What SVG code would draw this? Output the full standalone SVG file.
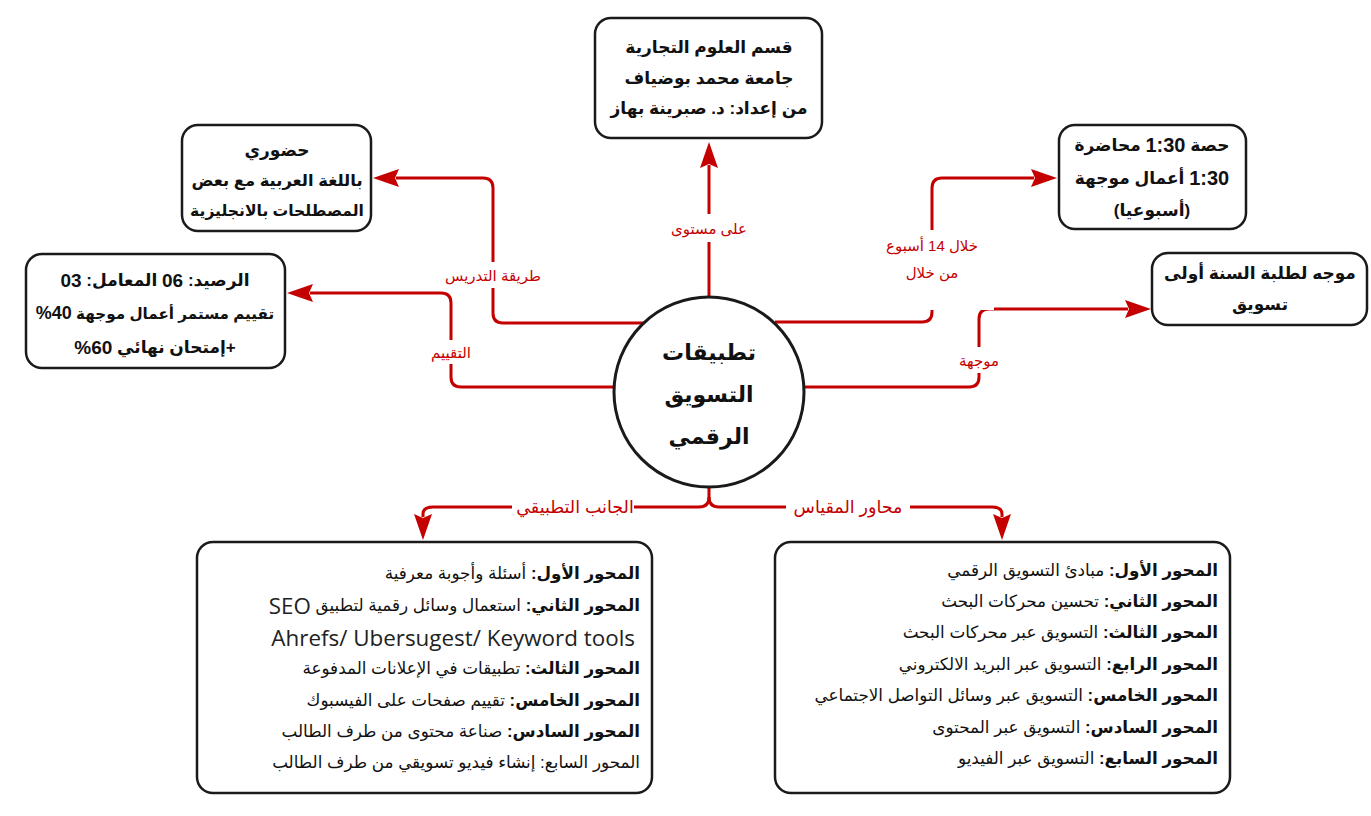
<svg xmlns="http://www.w3.org/2000/svg" width="1371" height="816" viewBox="0 0 1371 816">
<style>
.box{fill:#fff;stroke:#1a1a1a;stroke-width:2.5}
.t{font-family:"Liberation Sans","DejaVu Sans",sans-serif;fill:#111;direction:rtl}
.b{font-weight:bold;font-size:17px}
.c{font-weight:bold;font-size:22px}
.l{font-size:16.8px}
.n{font-size:19px}
.en{font-family:"Open Sans","Noto Sans",sans-serif;font-size:22.4px;fill:#222}
.con{fill:none;stroke:#c40000;stroke-width:3}
.lab{font-family:"Liberation Sans","DejaVu Sans",sans-serif;font-size:15px;fill:#c40000;direction:rtl}
.lab2{font-size:17.5px}
.bg{fill:#fff}
</style>
<defs>
<marker id="arr" markerUnits="userSpaceOnUse" viewBox="0 0 26 18" refX="3" refY="9" markerWidth="26" markerHeight="18" orient="auto">
<path d="M0,0 L26,9 L0,18 L4,9 z" fill="#c40000"/>
</marker>
</defs>

<g id="connectors">
<path class="con" d="M709,297 L709,165" marker-end="url(#arr)"/>
<path class="con" d="M644,323 L503,323 Q493,323 493,313 L493,188 Q493,178 483,178 L396,178" marker-end="url(#arr)"/>
<path class="con" d="M615,387 L461,387 Q451,387 451,377 L451,303 Q451,293 441,293 L310,293" marker-end="url(#arr)"/>
<path class="con" d="M775,322 L922,322 Q932,322 932,312 L932,188 Q932,178 942,178 L1034,178" marker-end="url(#arr)"/>
<path class="con" d="M803,387 L969,387 Q979,387 979,377 L979,319 Q979,309 989,309 L1128,309" marker-end="url(#arr)"/>
<path class="con" d="M709,487 L709,497 Q709,507 699,507 L433,507 Q423,507 423,514 L423,517" marker-end="url(#arr)"/>
<path class="con" d="M709,497 Q709,507 719,507 L992,507 Q1002,507 1002,514 L1002,517" marker-end="url(#arr)"/>
<g id="labels">
<rect class="bg" x="670" y="214" width="78" height="28"/>
<text class="lab" x="709" y="228" text-anchor="middle" dominant-baseline="central">على مستوى</text>
<rect class="bg" x="438" y="262" width="110" height="26"/>
<text class="lab" x="493" y="275" text-anchor="middle" dominant-baseline="central">طريقة التدريس</text>
<rect class="bg" x="424" y="340" width="54" height="24"/>
<text class="lab" x="451" y="352" text-anchor="middle" dominant-baseline="central">التقييم</text>
<rect class="bg" x="870" y="230" width="124" height="80"/>
<text class="lab" x="932" y="245" text-anchor="middle" dominant-baseline="central">خلال 14 أسبوع</text>
<text class="lab" x="932" y="272" text-anchor="middle" dominant-baseline="central">من خلال</text>
<rect class="bg" x="948" y="347" width="62" height="26"/>
<text class="lab" x="979" y="360" text-anchor="middle" dominant-baseline="central">موجهة</text>
<rect class="bg" x="512" y="495" width="122" height="24"/>
<text class="lab lab2" x="575" y="507" text-anchor="middle" dominant-baseline="central">الجانب التطبيقي</text>
<rect class="bg" x="786" y="495" width="124" height="24"/>
<text class="lab lab2" x="848" y="507" text-anchor="middle" dominant-baseline="central">محاور المقياس</text>
</g>
</g>

<g id="node-center">
<circle cx="709" cy="392" r="95" fill="#fff" stroke="#1a1a1a" stroke-width="3"/>
<text class="t c" x="709" y="352" text-anchor="middle" dominant-baseline="central">تطبيقات</text>
<text class="t c" x="709" y="394" text-anchor="middle" dominant-baseline="central">التسويق</text>
<text class="t c" x="709" y="436" text-anchor="middle" dominant-baseline="central">الرقمي</text>
</g>

<g id="node-top">
<rect class="box" x="595" y="18" width="227" height="120" rx="16"/>
<text class="t b" x="709" y="47" text-anchor="middle" dominant-baseline="central">قسم العلوم التجارية</text>
<text class="t b" x="709" y="78" text-anchor="middle" dominant-baseline="central">جامعة محمد بوضياف</text>
<text class="t b" x="709" y="108" text-anchor="middle" dominant-baseline="central">من إعداد: د. صبرينة بهاز</text>
</g>

<g id="node-teaching">
<rect class="box" x="182" y="125" width="189" height="106" rx="16"/>
<text class="t b" x="277" y="150" text-anchor="middle" dominant-baseline="central">حضوري</text>
<text class="t b" x="277" y="180" text-anchor="middle" dominant-baseline="central" style="font-size:16.4px">باللغة العربية مع بعض</text>
<text class="t b" x="277" y="210" text-anchor="middle" dominant-baseline="central" style="font-size:15.6px">المصطلحات بالانجليزية</text>
</g>

<g id="node-evaluation">
<rect class="box" x="26" y="254" width="259" height="114" rx="16"/>
<text class="t b" x="155" y="280" text-anchor="middle" dominant-baseline="central">الرصيد: <tspan class="n">06</tspan> المعامل: <tspan class="n">03</tspan></text>
<text class="t b" x="155" y="313" text-anchor="middle" dominant-baseline="central" style="font-size:15.2px">تقييم مستمر أعمال موجهة <tspan style="font-size:18px">40%</tspan></text>
<text class="t b" x="155" y="347" text-anchor="middle" dominant-baseline="central">+إمتحان نهائي <tspan class="n">60%</tspan></text>
</g>

<g id="node-schedule">
<rect class="box" x="1059" y="125" width="187" height="104" rx="16"/>
<text class="t b" x="1152" y="145" text-anchor="middle" dominant-baseline="central">حصة <tspan style="font-size:20px">1:30</tspan> محاضرة</text>
<text class="t b" x="1152" y="178" text-anchor="middle" dominant-baseline="central"><tspan style="font-size:20px">1:30</tspan> أعمال موجهة</text>
<text class="t b" x="1152" y="210" text-anchor="middle" dominant-baseline="central">(أسبوعيا)</text>
</g>

<g id="node-audience">
<rect class="box" x="1152" y="253" width="215" height="72" rx="16"/>
<text class="t b" x="1260" y="273" text-anchor="middle" dominant-baseline="central">موجه لطلبة السنة أولى</text>
<text class="t b" x="1260" y="304" text-anchor="middle" dominant-baseline="central">تسويق</text>
</g>

<g id="node-practical">
<rect class="box" x="197" y="542" width="455" height="251" rx="16"/>
<text class="t l" x="640" y="573" dominant-baseline="central"><tspan font-weight="bold">المحور الأول:</tspan> أسئلة وأجوبة معرفية</text>
<text class="t l" x="640" y="605" dominant-baseline="central"><tspan font-weight="bold">المحور الثاني:</tspan> استعمال وسائل رقمية لتطبيق <tspan class="en">SEO</tspan></text>
<text class="en" x="635" y="637" text-anchor="end" dominant-baseline="central">Ahrefs/ Ubersugest/ Keyword tools</text>
<text class="t l" x="640" y="668" dominant-baseline="central"><tspan font-weight="bold">المحور الثالث:</tspan> تطبيقات في الإعلانات المدفوعة</text>
<text class="t l" x="640" y="700" dominant-baseline="central"><tspan font-weight="bold">المحور الخامس:</tspan> تقييم صفحات على الفيسبوك</text>
<text class="t l" x="640" y="731" dominant-baseline="central"><tspan font-weight="bold">المحور السادس:</tspan> صناعة محتوى من طرف الطالب</text>
<text class="t l" x="640" y="762" dominant-baseline="central">المحور السابع: إنشاء فيديو تسويقي من طرف الطالب</text>
</g>

<g id="node-axes">
<rect class="box" x="775" y="542" width="455" height="251" rx="16"/>
<text class="t l" x="1218" y="570" dominant-baseline="central"><tspan font-weight="bold">المحور الأول:</tspan> مبادئ التسويق الرقمي</text>
<text class="t l" x="1218" y="601" dominant-baseline="central"><tspan font-weight="bold">المحور الثاني:</tspan> تحسين محركات البحث</text>
<text class="t l" x="1218" y="632" dominant-baseline="central"><tspan font-weight="bold">المحور الثالث:</tspan> التسويق عبر محركات البحث</text>
<text class="t l" x="1218" y="664" dominant-baseline="central"><tspan font-weight="bold">المحور الرابع:</tspan> التسويق عبر البريد الالكتروني</text>
<text class="t l" x="1218" y="695" dominant-baseline="central"><tspan font-weight="bold">المحور الخامس:</tspan> التسويق عبر وسائل التواصل الاجتماعي</text>
<text class="t l" x="1218" y="727" dominant-baseline="central"><tspan font-weight="bold">المحور السادس:</tspan> التسويق عبر المحتوى</text>
<text class="t l" x="1218" y="758" dominant-baseline="central"><tspan font-weight="bold">المحور السابع:</tspan> التسويق عبر الفيديو</text>
</g>
</svg>
